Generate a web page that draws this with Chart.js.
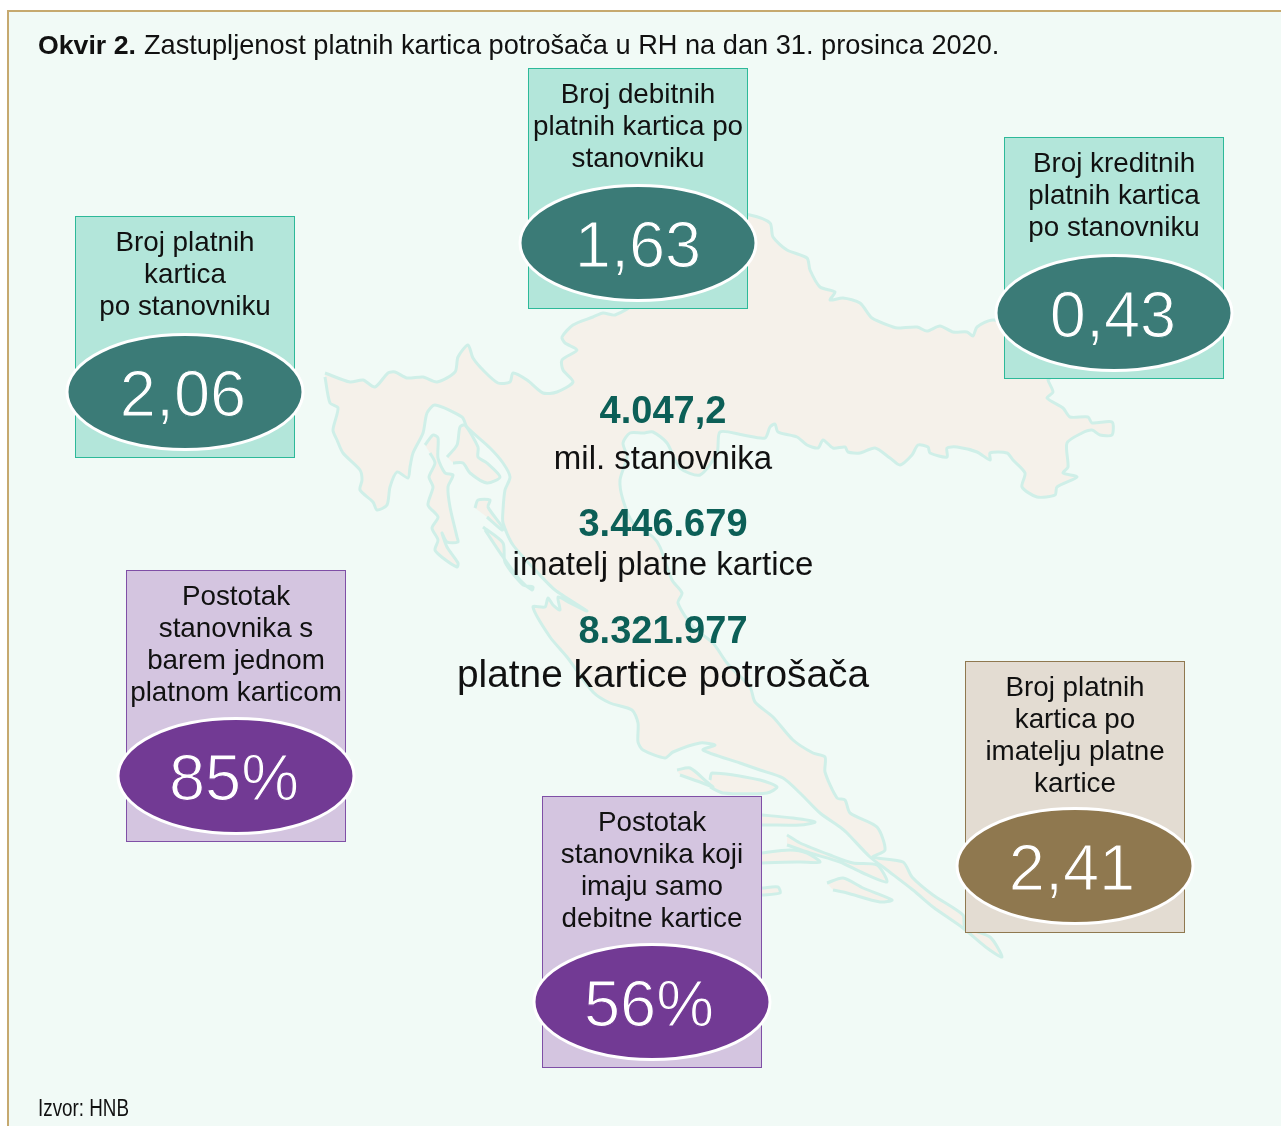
<!DOCTYPE html>
<html>
<head>
<meta charset="utf-8">
<title>Okvir 2.</title>
<script src="https://cdn.jsdelivr.net/npm/chart.js@4"></script>
<style>
    html, body { margin: 0; background: #fff; }
    canvas { display: block; }
</style>
</head>
<body>
<canvas class="map-chart" width="1281" height="1126"></canvas>
<script>
const titleBold = 'Okvir 2.'
const titleText = 'Zastupljenost platnih kartica potrošača u RH na dan 31. prosinca 2020.'
const sourceText = 'Izvor: HNB'

// kartice
const cardTitles = [
    ['Broj platnih', 'kartica', 'po stanovniku'],
    ['Broj debitnih', 'platnih kartica po', 'stanovniku'],
    ['Broj kreditnih', 'platnih kartica', 'po stanovniku'],
    ['Postotak', 'stanovnika s', 'barem jednom', 'platnom karticom'],
    ['Postotak', 'stanovnika koji', 'imaju samo', 'debitne kartice'],
    ['Broj platnih', 'kartica po', 'imatelju platne', 'kartice'],
]
const cardValues = ['2,06', '1,63', '0,43', '85%', '56%', '2,41']

// sredina
const centerValues = ['4.047,2', '3.446.679', '8.321.977']
const centerLabels = ['mil. stanovnika', 'imatelj platne kartice', 'platne kartice potrošača']

// obris karte, tocke ocitane sa slike
const mainland = [
    [325,373],[350,382],[363,380],[375,387],[388,373],[395,372],[407,378],[423,377],[437,382],[455,372],
    [458,357],[468,345],[473,358],[483,370],[498,383],[510,382],[513,373],[527,380],[543,393],[557,392],
    [573,382],[563,370],[562,360],[577,350],[565,343],[562,337],[573,325],[593,317],[603,313],[615,315],
    [640,300],[700,250],[735,215],[750,215],[770,223],[773,237],[787,250],[807,258],[810,270],[820,287],
    [835,292],[830,300],[843,298],[860,303],[872,318],[893,327],[898,328],[917,327],[927,331],[940,326],
    [953,332],[967,332],[973,336],[977,327],[993,320],[1040,330],[1050,378],[1048,380],[1053,392],[1047,398],
    [1063,408],[1070,417],[1088,417],[1092,423],[1112,422],[1112,435],[1100,435],[1092,430],[1082,433],[1067,443],
    [1068,467],[1063,473],[1077,477],[1057,487],[1055,495],[1037,497],[1022,487],[1025,473],[1013,460],[1007,453],
    [990,453],[990,460],[977,452],[957,447],[947,448],[947,457],[930,453],[928,447],[918,445],[912,455],
    [900,465],[890,458],[875,448],[860,453],[848,452],[845,447],[833,448],[823,440],[818,448],[807,445],
    [797,437],[778,432],[775,424],[770,427],[765,438],[743,435],[720,432],[717,453],[700,475],[680,468],
    [667,443],[653,432],[643,433],[630,433],[623,443],[627,457],[620,480],[623,500],[633,523],[653,537],
    [660,547],[672,580],[682,593],[678,603],[693,627],[713,643],[727,663],[750,687],[755,702],[773,717],
    [793,740],[813,753],[825,757],[825,772],[837,798],[845,800],[850,813],[877,827],[885,850],[873,857],
    [903,862],[912,877],[933,895],[963,915],[965,927],[990,937],[1002,957],[987,948],[963,928],[933,907],
    [913,890],[887,870],[870,857],[847,833],[840,827],[820,813],[800,793],[783,778],[760,770],[740,763],
    [703,750],[715,745],[700,743],[673,752],[665,758],[643,750],[638,742],[638,723],[632,710],[610,703],
    [593,692],[567,657],[550,637],[533,607],[545,607],[548,598],[553,605],[560,610],[558,597],[570,603],
    [587,611],[555,590],[538,573],[513,545],[503,523],[503,510],[505,490],[510,477],[503,463],[490,448],
    [467,427],[462,417],[435,405],[427,413],[423,433],[413,453],[410,467],[408,478],[397,472],[390,487],
    [387,505],[377,510],[373,502],[360,490],[362,480],[360,470],[343,453],[337,440],[333,430],[338,408],
    [330,403],[325,377],
]
const cres = [
    [425,445],[433,435],[438,438],[438,458],[445,473],[453,475],[448,487],[450,507],[457,537],[458,542],
    [447,542],[442,533],[447,547],[458,563],[457,567],[443,558],[435,550],[438,540],[432,528],[438,517],
    [428,505],[433,487],[429,477],[435,463],[430,453],
]
const krk = [[447,457],[457,445],[460,427],[465,425],[478,447],[478,457],[487,463],[500,477],[487,483],[470,473],[463,463],[453,463]]
const rab = [[475,508],[478,500],[490,500],[488,507],[503,528],[502,530],[487,517]]
const pag = [[483,527],[503,543],[505,562],[523,585],[533,587],[532,590],[520,580],[503,557],[485,530]]
const solta = [[677,770],[690,768],[707,782],[713,787],[700,782],[680,775]]
const brac = [[710,780],[712,773],[760,780],[777,787],[767,793],[723,793],[710,787]]
const hvar = [[750,814],[762,815],[793,818],[815,822],[800,825],[762,825],[750,826]]
const korcula = [[750,855],[762,853],[790,850],[807,853],[820,862],[800,862],[762,863],[750,865]]
const vis = [[750,888],[762,888],[778,887],[780,893],[762,895],[750,896]]
const peljesac = [[787,835],[800,843],[830,855],[853,863],[877,865],[887,882],[863,873],[840,862],[810,853],[787,845]]
const mljet = [[827,883],[843,878],[863,888],[892,900],[880,902],[847,893],[833,890]]
const mapParts = [mainland, cres, krk, rab, pag, solta, brac, hvar, korcula, vis, peljesac, mljet]

// raspored
const CARD_W = 220
const cardLeft = [75, 528, 1004, 126, 542, 965]
const cardTop = [216, 68, 137, 570, 796, 661]
const cardBottom = [458, 309, 379, 842, 1068, 933]
const ovalX = [185, 638, 1114, 236, 652, 1075]
const ovalY = [392, 243, 313, 776, 1002, 866]
const valueShift = [-2, 0, -1, -2, -3, -3]
const cardTheme = ['teal', 'teal', 'teal', 'violet', 'violet', 'sand']
const themes = {
    teal: { fill: '#b3e6da', border: '#2db999', oval: '#3b7b77' },
    violet: { fill: '#d4c5e0', border: '#7f4fa6', oval: '#723a94' },
    sand: { fill: '#e3dcd2', border: '#8f784f', oval: '#8f784f' },
}
const FONT = '"Liberation Sans", Arial, sans-serif'

const cardsPlugin = {
    id: 'cards',
    beforeDatasetsDraw(chart) {
        const { ctx, scales: { x, y } } = chart
        ctx.save()
        ctx.fillStyle = '#f1faf6'
        ctx.fillRect(x.getPixelForValue(8), y.getPixelForValue(11), 1281, 1126)
        ctx.fillStyle = '#c6a96f'
        ctx.fillRect(x.getPixelForValue(7), y.getPixelForValue(10), 1281, 2)
        ctx.fillRect(x.getPixelForValue(7), y.getPixelForValue(10), 2, 1126)
        ctx.restore()
    },
    afterDatasetsDraw(chart) {
        const { ctx, scales: { x, y } } = chart
        ctx.save()
        ctx.textAlign = 'left'
        ctx.textBaseline = 'alphabetic'

        // naslov
        ctx.fillStyle = '#111'
        ctx.font = 'bold 26.7px ' + FONT
        ctx.fillText(titleBold, x.getPixelForValue(38), y.getPixelForValue(54))
        ctx.font = '27.2px ' + FONT
        ctx.fillText(titleText, x.getPixelForValue(144), y.getPixelForValue(54))

        // izvor, uski font nije instaliran pa maxWidth
        ctx.font = '23px ' + FONT
        ctx.fillText(sourceText, x.getPixelForValue(38), y.getPixelForValue(1116), 91)

        // sredina
        ctx.textAlign = 'center'
        const valueBase = [423, 536, 642.5]
        const labelBase = [469, 575, 687]
        const labelSize = [33, 33, 38.8]
        centerValues.forEach((value, i) => {
            ctx.fillStyle = '#0c5f57'
            ctx.font = 'bold 38px ' + FONT
            ctx.fillText(value, x.getPixelForValue(663), y.getPixelForValue(valueBase[i]))
            ctx.fillStyle = '#111'
            ctx.font = labelSize[i] + 'px ' + FONT
            ctx.fillText(centerLabels[i], x.getPixelForValue(663), y.getPixelForValue(labelBase[i]))
        })

        // kartice
        cardValues.forEach((value, i) => {
            const theme = themes[cardTheme[i]]
            const left = x.getPixelForValue(cardLeft[i])
            const top = y.getPixelForValue(cardTop[i])
            const bottom = y.getPixelForValue(cardBottom[i])
            ctx.fillStyle = theme.fill
            ctx.strokeStyle = theme.border
            ctx.lineWidth = 1
            ctx.fillRect(left, top, CARD_W, bottom - top)
            ctx.strokeRect(left + 0.5, top + 0.5, CARD_W - 1, bottom - top - 1)

            ctx.fillStyle = '#111'
            ctx.font = '27.8px ' + FONT
            cardTitles[i].forEach((line, n) => {
                ctx.fillText(line, left + CARD_W / 2, top + 35 + n * 32)
            })

            const cx = x.getPixelForValue(ovalX[i])
            const cy = y.getPixelForValue(ovalY[i])
            ctx.beginPath()
            ctx.ellipse(cx, cy, 118, 57.5, 0, 0, Math.PI * 2)
            ctx.fillStyle = theme.oval
            ctx.fill()
            ctx.strokeStyle = '#fff'
            ctx.lineWidth = 3
            ctx.stroke()

            // brojke su u originalu tanje, obrub boje elipse ih stanji
            ctx.fillStyle = '#fff'
            ctx.font = '65px ' + FONT
            ctx.fillText(value, cx + valueShift[i], cy + 24)
            ctx.strokeStyle = theme.oval
            ctx.lineWidth = 1.2
            ctx.strokeText(value, cx + valueShift[i], cy + 24)
        })
        ctx.restore()
    },
}

document.addEventListener('DOMContentLoaded', () => {
    const ctx = document.querySelector('.map-chart').getContext('2d')
    new Chart(ctx, {
        type: 'scatter',
        data: {
            datasets: mapParts.map(part => ({
                data: part.map(p => ({ x: p[0], y: p[1] })),
                showLine: true,
                fill: 'shape',
                borderColor: '#cfefe8',
                backgroundColor: '#f5f1ea',
                borderWidth: 3,
                borderJoinStyle: 'round',
                pointRadius: 0,
                tension: 0.25,
            })),
        },
        options: {
            responsive: false,
            animation: false,
            events: [],
            layout: { padding: 0 },
            plugins: { legend: { display: false }, tooltip: { enabled: false } },
            scales: {
                x: { type: 'linear', min: 0, max: 1281, display: false },
                y: { type: 'linear', min: 0, max: 1126, reverse: true, display: false },
            },
        },
        plugins: [cardsPlugin],
    })
})
</script>
</body>
</html>
